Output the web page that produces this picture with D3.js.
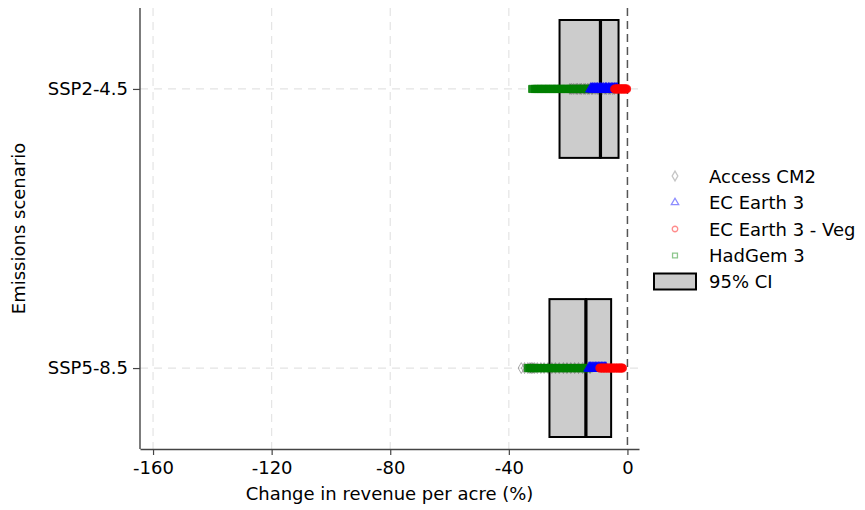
<!DOCTYPE html>
<html>
<head>
<meta charset="utf-8">
<script src="https://cdn.jsdelivr.net/npm/d3@7"></script>
<style>
    body { margin: 0; background: #fff; }
    svg { font-family: "DejaVu Sans", sans-serif; }
</style>
</head>
<body>
<div id="chart"></div>
<script>
// Scenario categories and 95% CI boxes (low, split, high).
var scenarios = ["SSP2-4.5", "SSP5-8.5"];
var ciLow = [-22.9, -26.3];
var ciMid = [-9.1, -14.0];
var ciHigh = [-3.0, -5.5];

var xTicks = [-160, -120, -80, -40, 0];

var models = ["Access CM2", "EC Earth 3", "EC Earth 3 - Veg", "HadGem 3"];

// Model estimates per scenario.
var accessSSP2 = [-19.4, -18.8, -18.1, -17.3, -16.8, -16.0, -15.5, -14.7, -14.2, -13.4, -12.9, -12.1, -11.7, -10.9, -10.2, -9.7, -8.9, -8.4, -7.6, -7.1, -6.3, -5.8, -5.0, -4.4];
var ecEarthSSP2 = [-12.3, -11.7, -11.2, -10.6, -10.1, -9.5, -9.1, -8.6, -8.0, -7.4, -7.0, -6.4, -5.9, -5.3, -4.9, -4.4, -3.9, -3.5];
var ecVegSSP2 = [-4.3, -3.8, -3.4, -3.1, -2.6, -2.2, -1.9, -1.4, -1.0, -0.7, -0.3];
var hadgemSSP2 = [-32.1, -31.2, -30.5, -29.8, -29.2, -28.4, -27.9, -27.1, -26.6, -25.8, -25.3, -24.5, -24.0, -23.4, -22.6, -22.1, -21.3, -20.8, -20.2, -19.4, -18.9, -18.3, -17.5, -17.0, -16.4, -15.7, -15.1, -14.5, -13.8, -13.3, -12.7, -12.1];

var accessSSP5 = [-35.8, -34.7, -33.6, -32.9, -32.4, -31.9, -31.3, -30.4, -29.2, -28.1, -26.8, -25.5, -24.3, -23.0, -21.6, -20.4, -19.1, -17.8, -16.5, -15.1, -13.9, -12.6];
var ecEarthSSP5 = [-12.9, -12.4, -11.9, -11.3, -10.8, -10.3, -9.8, -9.3, -8.8, -8.3, -7.8, -7.3];
var ecVegSSP5 = [-9.3, -8.7, -8.2, -7.6, -7.1, -6.5, -6.0, -5.4, -4.9, -4.3, -3.7, -3.2, -2.6, -2.1, -1.7];
var hadgemSSP5 = [-33.6, -32.9, -32.3, -31.6, -31.0, -30.3, -29.7, -29.0, -28.4, -27.7, -27.1, -26.4, -25.8, -25.1, -24.5, -23.8, -23.2, -22.5, -21.9, -21.2, -20.6, -19.9, -19.3, -18.6, -18.0, -17.3, -16.7, -16.0, -15.4, -14.7, -14.1, -13.4, -12.8];

var modelColors = ["#2a2a2a", "#0000ff", "#ff0000", "#008000"];
var legendColors = ["#7f7f7f", "#0000ff", "#ff0000", "#008000"];
var modelSymbols = [d3.symbolDiamond, d3.symbolTriangle, d3.symbolCircle, d3.symbolSquare];

var width = 865, height = 510;

var svg = d3.select("#chart").append("svg")
    .attr("width", width)
    .attr("height", height);

// Scales.
var x = d3.scaleLinear()
    .domain([-164.4, 3.9])
    .range([140, 639]);

var y = d3.scalePoint()
    .domain(scenarios)
    .range([8, 449])
    .padding(0.29);

var plotTop = 8, plotBottom = 449;
var boxHalf = y.step() * 0.247;

// Grid lines.
svg.append("g").selectAll("line")
    .data(xTicks.filter(t => t != 0))
    .join("line")
    .attr("x1", d => x(d)).attr("x2", d => x(d))
    .attr("y1", plotTop).attr("y2", plotBottom)
    .attr("stroke", "#e4e4e4")
    .attr("stroke-width", 1.2)
    .attr("stroke-dasharray", "8,6");

svg.append("g").selectAll("line")
    .data(scenarios)
    .join("line")
    .attr("x1", x.range()[0]).attr("x2", x.range()[1])
    .attr("y1", d => y(d)).attr("y2", d => y(d))
    .attr("stroke", "#e4e4e4")
    .attr("stroke-width", 1.2)
    .attr("stroke-dasharray", "8,6");

// Zero reference line.
svg.append("line")
    .attr("x1", x(0)).attr("x2", x(0))
    .attr("y1", plotTop).attr("y2", plotBottom)
    .attr("stroke", "#555")
    .attr("stroke-width", 1.5)
    .attr("stroke-dasharray", "8,5");

// CI boxes, two halves each.
var boxes = [];
scenarios.forEach(function(s, i) {
    boxes.push({ s: s, a: ciLow[i], b: ciMid[i] });
    boxes.push({ s: s, a: ciMid[i], b: ciHigh[i] });
});

svg.append("g").selectAll("rect")
    .data(boxes)
    .join("rect")
    .attr("x", d => x(d.a))
    .attr("width", d => x(d.b) - x(d.a))
    .attr("y", d => y(d.s) - boxHalf)
    .attr("height", boxHalf * 2)
    .attr("fill", "#cccccc")
    .attr("stroke", "#000")
    .attr("stroke-width", 2);

// Thicker split line inside each box.
svg.append("g").selectAll("line")
    .data(scenarios)
    .join("line")
    .attr("x1", (d, i) => x(ciMid[i])).attr("x2", (d, i) => x(ciMid[i]))
    .attr("y1", d => y(d) - boxHalf).attr("y2", d => y(d) + boxHalf)
    .attr("stroke", "#000")
    .attr("stroke-width", 3.2);

// Scatter of model estimates.
var series = [
    { m: 0, s: scenarios[0], v: accessSSP2 },
    { m: 0, s: scenarios[1], v: accessSSP5 },
    { m: 3, s: scenarios[0], v: hadgemSSP2 },
    { m: 3, s: scenarios[1], v: hadgemSSP5 },
    { m: 1, s: scenarios[0], v: ecEarthSSP2 },
    { m: 1, s: scenarios[1], v: ecEarthSSP5 },
    { m: 2, s: scenarios[0], v: ecVegSSP2 },
    { m: 2, s: scenarios[1], v: ecVegSSP5 }
];

series.forEach(function(ser) {
    var sym = d3.symbol().type(modelSymbols[ser.m]).size(ser.m == 0 ? 34 : 52);
    svg.append("g").selectAll("path")
        .data(ser.v)
        .join("path")
        .attr("transform", d => "translate(" + x(d) + "," + y(ser.s) + ")")
        .attr("d", sym)
        .attr("fill", ser.m == 0 ? "none" : modelColors[ser.m])
        .attr("fill-opacity", 0.9)
        .attr("stroke", modelColors[ser.m])
        .attr("stroke-opacity", ser.m == 0 ? 0.4 : 0.8)
        .attr("stroke-width", 1);
});

// Axes.
var xAxis = svg.append("g")
    .attr("transform", "translate(0," + plotBottom + ")")
    .call(d3.axisBottom(x).tickValues(xTicks).tickFormat(d => String(d))
        .tickSize(6).tickPadding(6.5).tickSizeOuter(0));

var yAxis = svg.append("g")
    .attr("transform", "translate(" + x.range()[0] + ",0)")
    .call(d3.axisLeft(y).tickSize(7).tickPadding(5).tickSizeOuter(0));

[xAxis, yAxis].forEach(function(a) {
    a.select(".domain").attr("stroke", "#444").attr("stroke-width", 1.4);
    a.selectAll(".tick line").attr("stroke", "#444").attr("stroke-width", 1.2);
    a.selectAll(".tick text").attr("fill", "#000").style("font-size", "18px")
        .style("font-family", "DejaVu Sans");
});
yAxis.select(".domain").attr("d", "M0," + plotTop + "V" + plotBottom);

// Axis titles.
svg.append("text")
    .attr("x", (x.range()[0] + x.range()[1]) / 2)
    .attr("y", 500)
    .attr("text-anchor", "middle")
    .style("font-size", "18px")
    .text("Change in revenue per acre (%)");

svg.append("text")
    .attr("transform", "translate(25," + ((plotTop + plotBottom) / 2) + ") rotate(-90)")
    .attr("text-anchor", "middle")
    .style("font-size", "18px")
    .text("Emissions scenario");

// Legend.
var legendY = [176, 202.5, 229, 255.5];
var legend = svg.append("g");

models.forEach(function(m, i) {
    legend.append("path")
        .attr("transform", "translate(675," + legendY[i] + ")")
        .attr("d", d3.symbol().type(modelSymbols[i]).size(i == 0 ? 28 : 24))
        .attr("fill", "none")
        .attr("stroke", legendColors[i])
        .attr("stroke-opacity", 0.45)
        .attr("stroke-width", 1.3);
    legend.append("text")
        .attr("x", 709)
        .attr("y", legendY[i] + 6.5)
        .style("font-size", "18px")
        .text(m);
});

legend.append("rect")
    .attr("x", 654).attr("y", 273.5)
    .attr("width", 42).attr("height", 16)
    .attr("fill", "#cccccc")
    .attr("stroke", "#000")
    .attr("stroke-width", 2);

legend.append("text")
    .attr("x", 709)
    .attr("y", 288)
    .style("font-size", "18px")
    .text("95% CI");
</script>
</body>
</html>
